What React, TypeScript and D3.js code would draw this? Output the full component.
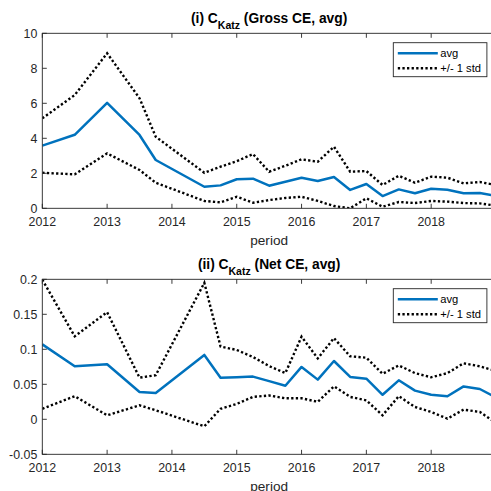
import React from "react";
import * as d3 from "d3";

const periods = [2012, 2012.5, 2013, 2013.5, 2013.75, 2014.5, 2014.75, 2015, 2015.25, 2015.5, 2015.75, 2016, 2016.25, 2016.5, 2016.75, 2017, 2017.25, 2017.5, 2017.75, 2018, 2018.25, 2018.5, 2018.75, 2019];

const grossAvg = [3.58, 4.2, 6.03, 4.19, 2.76, 1.23, 1.31, 1.66, 1.69, 1.29, 1.52, 1.75, 1.56, 1.79, 1.05, 1.39, 0.7, 1.08, 0.86, 1.12, 1.06, 0.86, 0.87, 0.71];
const grossUpper = [5.14, 6.47, 8.86, 6.29, 4.09, 2.03, 2.38, 2.69, 3.1, 2.09, 2.43, 2.8, 2.66, 3.52, 2.09, 2.13, 1.33, 1.86, 1.46, 1.81, 1.75, 1.43, 1.5, 1.33];
const grossLower = [2.03, 1.94, 3.14, 2.19, 1.46, 0.42, 0.34, 0.66, 0.32, 0.47, 0.59, 0.66, 0.42, 0.13, 0.0, 0.57, 0.09, 0.36, 0.3, 0.42, 0.38, 0.3, 0.28, 0.15];

const netAvg = [0.107, 0.0757, 0.0786, 0.039, 0.0376, 0.092, 0.0595, 0.06, 0.061, 0.0545, 0.048, 0.0748, 0.0567, 0.0833, 0.0605, 0.058, 0.035, 0.0557, 0.041, 0.035, 0.033, 0.047, 0.0433, 0.031];
const netUpper = [0.1995, 0.1186, 0.153, 0.0595, 0.063, 0.195, 0.104, 0.099, 0.089, 0.076, 0.066, 0.118, 0.087, 0.116, 0.09, 0.088, 0.065, 0.077, 0.066, 0.06, 0.066, 0.08, 0.0757, 0.069];
const netLower = [0.015, 0.033, 0.0057, 0.02, 0.0129, -0.01, 0.015, 0.022, 0.032, 0.034, 0.03, 0.03, 0.025, 0.047, 0.032, 0.027, 0.0057, 0.033, 0.0176, 0.0105, 0.001, 0.0138, 0.0105, -0.005];

const xTicks = [2012, 2013, 2014, 2015, 2016, 2017, 2018];
const grossYTicks = [0, 2, 4, 6, 8, 10];
const grossYLabels = ["0", "2", "4", "6", "8", "10"];
const netYTicks = [-0.05, 0, 0.05, 0.1, 0.15, 0.2];
const netYLabels = ["-0.05", "0", "0.05", "0.1", "0.15", "0.2"];
const legendLabels = ["avg", "+/- 1 std"];

const FONT = "'Liberation Sans', Arial, Helvetica, sans-serif";
const AX = "#262626";
const BLUE = "#0072BD";
const LEFT = 42.3;
const RIGHT = 496;
const TICK = 4.5;
const DOT = "2.3,2.3";

type PanelProps = {
  id: string;
  top: number;
  bottom: number;
  yDomain: [number, number];
  yTicks: number[];
  yLabels: string[];
  titlePre: string;
  titlePost: string;
  avg: number[];
  upper: number[];
  lower: number[];
};

function Panel(p: PanelProps) {
  const x = d3.scaleLinear().domain([2012, 2019]).range([LEFT, RIGHT]);
  const y = d3.scaleLinear().domain(p.yDomain).range([p.bottom, p.top]);
  const line = (vals: number[]) =>
    d3
      .line<number>()
      .x((_, i) => x(periods[i]))
      .y((v) => y(v))(vals) as string;
  const cx = (LEFT + RIGHT) / 2;
  const legX0 = 393.3;
  const legY0 = p.top + 9.4;
  return (
    <g>
      <defs>
        <clipPath id={p.id}>
          <rect x={LEFT} y={p.top} width={RIGHT - LEFT} height={p.bottom - p.top} />
        </clipPath>
      </defs>
      <rect x={LEFT} y={p.top} width={RIGHT - LEFT} height={p.bottom - p.top} fill="white" />
      <g clipPath={`url(#${p.id})`} fill="none">
        <path d={line(p.upper)} stroke="black" strokeWidth={2.4} strokeDasharray={DOT} />
        <path d={line(p.lower)} stroke="black" strokeWidth={2.4} strokeDasharray={DOT} />
        <path d={line(p.avg)} stroke={BLUE} strokeWidth={2.5} strokeLinejoin="round" />
      </g>
      {/* box */}
      <rect x={LEFT} y={p.top} width={RIGHT - LEFT} height={p.bottom - p.top} fill="none" stroke={AX} strokeWidth={0.9} />
      {/* x ticks */}
      {xTicks.map((t) => (
        <g key={"x" + t}>
          <line x1={x(t)} x2={x(t)} y1={p.bottom} y2={p.bottom - TICK} stroke={AX} strokeWidth={0.9} />
          <line x1={x(t)} x2={x(t)} y1={p.top} y2={p.top + TICK} stroke={AX} strokeWidth={0.9} />
          <text x={x(t)} y={p.bottom + 18} textAnchor="middle" fontSize={12.4} fill={AX} fontFamily={FONT}>
            {t}
          </text>
        </g>
      ))}
      {/* y ticks */}
      {p.yTicks.map((t, i) => (
        <g key={"y" + t}>
          <line x1={LEFT} x2={LEFT + TICK} y1={y(t)} y2={y(t)} stroke={AX} strokeWidth={0.9} />
          <line x1={RIGHT} x2={RIGHT - TICK} y1={y(t)} y2={y(t)} stroke={AX} strokeWidth={0.9} />
          <text x={LEFT - 5} y={y(t) + 4.4} textAnchor="end" fontSize={12.4} fill={AX} fontFamily={FONT}>
            {p.yLabels[i]}
          </text>
        </g>
      ))}
      {/* x label */}
      <text x={cx} y={p.bottom + 36.5} textAnchor="middle" fontSize={13.6} fill={AX} fontFamily={FONT}>
        period
      </text>
      {/* title */}
      <text x={cx} y={p.top - 10.3} textAnchor="middle" fontSize={13.8} fontWeight="bold" fill="black" fontFamily={FONT}>
        {p.titlePre}
        <tspan dy={5.5} fontSize={10.5}>Katz</tspan>
        <tspan dy={-5.5}>{p.titlePost}</tspan>
      </text>
      {/* legend */}
      <rect x={legX0} y={p.top + 9.4} width={93.6} height={34} fill="white" stroke={AX} strokeWidth={0.9} />
      <line x1={legX0 + 4.5} x2={legX0 + 44.5} y1={legY0 + 10.6} y2={legY0 + 10.6} stroke={BLUE} strokeWidth={2.5} />
      <text x={legX0 + 47} y={legY0 + 10.6 + 4} fontSize={11.2} fill="black" fontFamily={FONT}>
        {legendLabels[0]}
      </text>
      <line x1={legX0 + 4.5} x2={legX0 + 44.5} y1={legY0 + 25.6} y2={legY0 + 25.6} stroke="black" strokeWidth={2.4} strokeDasharray={DOT} />
      <text x={legX0 + 47} y={legY0 + 25.6 + 4} fontSize={11.2} fill="black" fontFamily={FONT}>
        {legendLabels[1]}
      </text>
    </g>
  );
}

export default function App() {
  return (
    <svg
      width={491}
      height={491}
      style={{ position: "absolute", left: 0, top: 0, background: "white" }}
    >
      <rect x={0} y={0} width={491} height={491} fill="white" />
      <Panel
        id="clipGross"
        top={33.3}
        bottom={208.3}
        yDomain={[0, 10]}
        yTicks={grossYTicks}
        yLabels={grossYLabels}
        titlePre="(i) C"
        titlePost=" (Gross CE, avg)"
        avg={grossAvg}
        upper={grossUpper}
        lower={grossLower}
      />
      <Panel
        id="clipNet"
        top={279.3}
        bottom={454.3}
        yDomain={[-0.05, 0.2]}
        yTicks={netYTicks}
        yLabels={netYLabels}
        titlePre="(ii) C"
        titlePost=" (Net CE, avg)"
        avg={netAvg}
        upper={netUpper}
        lower={netLower}
      />
    </svg>
  );
}
